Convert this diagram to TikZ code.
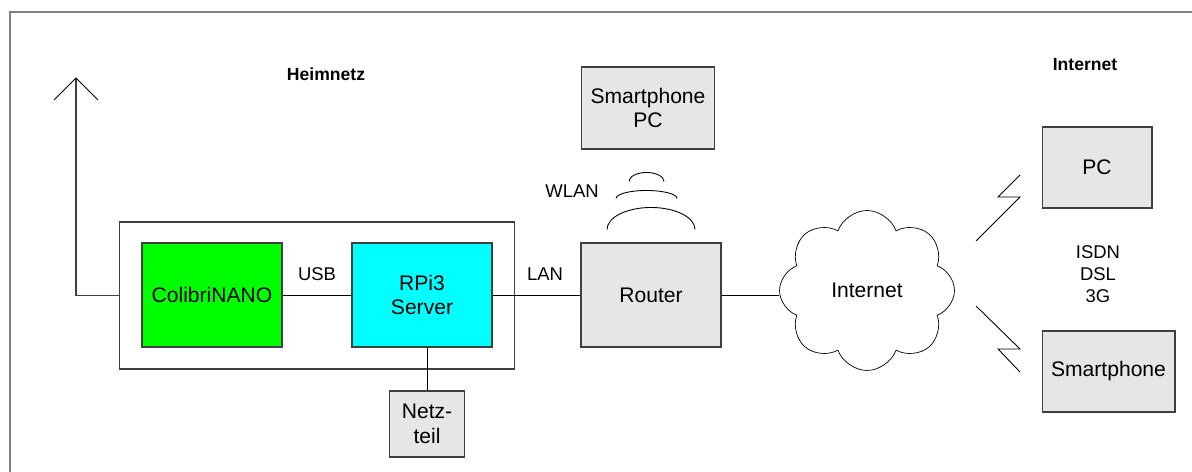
\documentclass[tikz,border=0pt]{standalone}
\usepackage{fontspec}
\setmainfont{Liberation Sans}
\usetikzlibrary{shapes, shapes.symbols, positioning, calc}
\definecolor{boxgray}{RGB}{230,230,230}
\definecolor{framegray}{RGB}{128,128,128}
\definecolor{edgegray}{RGB}{64,64,64}
\definecolor{nanogreen}{RGB}{0,255,0}
\definecolor{rpicyan}{RGB}{0,255,255}
\tikzstyle{device}=[draw=edgegray, fill=boxgray, line width=0.6pt, align=center,
  inner sep=0pt, font=\fontsize{12}{14}\selectfont]
\tikzstyle{wire}=[draw=black, line width=0.5pt]
\tikzstyle{smallLabel}=[inner sep=0pt, align=center, font=\fontsize{10.5}{12.5}\selectfont]
\tikzstyle{areaLabel}=[inner sep=0pt, font=\bfseries\fontsize{10}{12}\selectfont]

\begin{document}
\begin{tikzpicture}[x=0.02cm, y=-0.02cm]
      \useasboundingbox (0,0) rectangle (1192,472);
      \draw[framegray, line width=0.8pt] (10,472) -- (10,12) -- (1192,12);

      \node[areaLabel] (heimLabel) at (326,74) {Heimnetz};
      \node[areaLabel] (inetLabel) at (1085,65) {Internet};

      % Gehaeuse mit Empfaenger und Server
      \node[draw=edgegray, line width=0.6pt, minimum width=7.92cm, minimum height=2.94cm] (case) at (317,295.5) {};
      \node[device, fill=nanogreen, minimum width=2.8cm, minimum height=2.08cm] (colibri) at (212,295) {ColibriNANO};
      \node[device, fill=rpicyan, minimum width=2.8cm, minimum height=2.08cm] (rpi) at (422,295) {RPi3\\Server};
      \node[device, minimum width=1.5cm, minimum height=1.32cm] (psu) at (427,424) {Netz-\\teil};

      \node[device, minimum width=2.8cm, minimum height=2.08cm] (router) at (651,295) {Router};
      \node[device, minimum width=2.66cm, minimum height=1.64cm] (wlanDev) at (648,108) {Smartphone\\PC};
      \node[cloud, draw, cloud puffs=8, cloud puff arc=140, minimum width=3.5cm, minimum height=3.2cm,
        font=\fontsize{12}{14}\selectfont] (inet) at (867,290.5) {Internet};
      \node[device, minimum width=2.2cm, minimum height=1.62cm] (pc) at (1097,167.5) {PC};
      \node[device, minimum width=2.66cm, minimum height=1.62cm] (phone) at (1108.5,371.5) {Smartphone};

      \node[smallLabel] (usbLabel) at (317,274) {USB};
      \node[smallLabel] (lanLabel) at (545,274) {LAN};
      \node[smallLabel] (wlanLabel) at (572,191) {WLAN};
      \node[smallLabel] (lineLabel) at (1098,274) {ISDN\\DSL\\3G};

      \draw[wire] (colibri) -- (rpi);
      \draw[wire] (rpi) -- (router);
      \draw[wire] (psu.north |- rpi.south) -- (psu.north);
      \draw[wire] (router.east) -- (inet.west |- router.east);

      % Antenne
      \coordinate (antTop) at (76,78);
      \draw[draw=edgegray, line width=0.6pt] (case.west) -- (antTop |- case.west) -- (antTop);
      \draw[wire] (antTop) ++(-22,22) -- (antTop) -- ++(22,22);

      % Funkwellen
      \draw[wire] ([shift={(-44,-13)}]router.north) arc[start angle=180, end angle=360, x radius=44, y radius=22];
      \draw[wire] ([shift={(-35,-44)}]router.north) arc[start angle=180, end angle=360, x radius=30.5, y radius=8];
      \draw[wire] ([shift={(-22,-61)}]router.north) arc[start angle=180, end angle=360, x radius=17.5, y radius=9];

      \draw[wire] (976,241) -- (1020,197) -- (998,197) -- (1020,175);
      \draw[wire] (976,306) -- (1020,349) -- (998,349) -- (1020,372);
    \end{tikzpicture}
\end{document}
